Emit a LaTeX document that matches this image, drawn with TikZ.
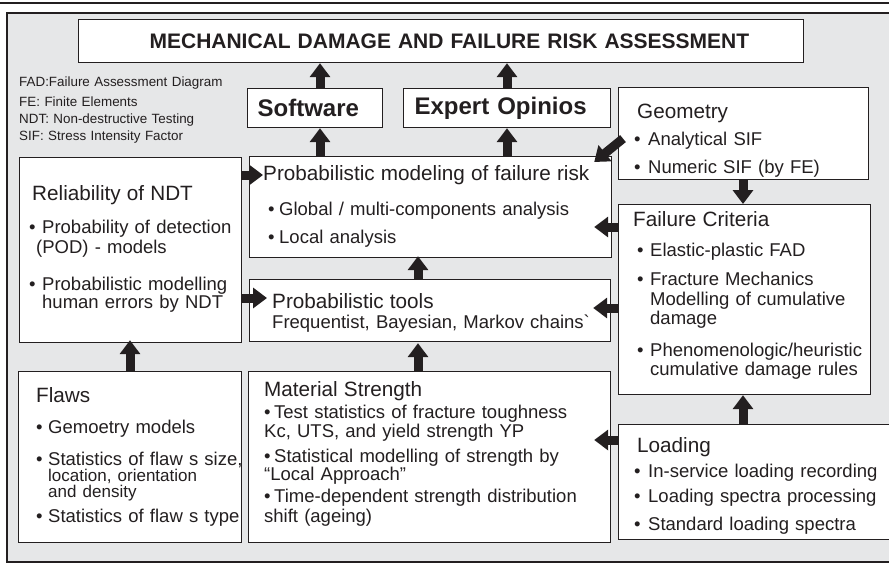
\documentclass[tikz,border=0pt]{standalone}
\usepackage{fontspec}
\setmainfont{Liberation Sans}
\usetikzlibrary{arrows.meta,calc,positioning}

\definecolor{inkc}{HTML}{231F20}
\definecolor{panelc}{RGB}{230,231,232}

\newcommand{\headfont}{\fontsize{20.7}{23}\selectfont}
\newcommand{\itemfont}{\fontsize{18.5}{20}\selectfont}
\newcommand{\tightfont}{\fontsize{17}{20}\selectfont}
\newcommand{\abbrfont}{\fontsize{13.4}{16.7}\selectfont}
\newcommand{\bul}[1][13pt]{\makebox[#1][l]{\textbullet}}

\begin{document}
\begin{tikzpicture}[
    x=1pt, y=-1pt,
    box/.style={draw=inkc,line width=1.2pt,fill=white,anchor=north west,inner sep=0pt},
    txt/.style={anchor=base west,inner sep=0pt,align=left,text=inkc,font=\itemfont,text width=#1},
    txt/.default=240pt,
    flow/.style={draw=inkc,line width=9pt,-{Triangle[length=14pt,width=20pt]}}
]
\useasboundingbox (0,0) rectangle (889,566);

% rule and grey panel
\draw[inkc,line width=1.3pt] (0,3) -- (889,3);
\draw[inkc,line width=1.3pt,fill=panelc] (7,13) rectangle (900,562);

% ===== Boxes =====
\node[box,minimum width=725pt,minimum height=43pt,text width=725pt,align=left,
      text=inkc,font=\bfseries\fontsize{21}{24}\selectfont] (goal) at (78,19)
    {\hspace*{71pt}MECHANICAL DAMAGE AND FAILURE RISK ASSESSMENT};

\node[box,minimum width=135pt,minimum height=39pt,text width=135pt,align=left,
      text=inkc,font=\bfseries\fontsize{24}{28}\selectfont] (sw) at (247,88)
    {\hspace*{10pt}Software};
\node[box,minimum width=207pt,minimum height=39pt,text width=207pt,align=left,
      text=inkc,font=\bfseries\fontsize{24}{28}\selectfont] (expert) at (403,88)
    {\hspace*{11pt}Expert Opinios};

\node[box,minimum width=250pt,minimum height=92pt] (geo) at (618,87) {};
\node[box,minimum width=362pt,minimum height=101pt] (model) at (249,156) {};
\node[box,minimum width=222pt,minimum height=185pt] (ndt) at (19,157) {};
\node[box,minimum width=361pt,minimum height=62pt] (tools) at (249,279) {};
\node[box,minimum width=252pt,minimum height=190pt] (fail) at (618,204) {};
\node[box,minimum width=223pt,minimum height=171pt] (flaws) at (18,371) {};
\node[box,minimum width=362pt,minimum height=171pt] (mat) at (248,371) {};
\node[box,minimum width=280pt,minimum height=115pt] (load) at (618,424) {};

% ===== Texts =====
\node[txt,font=\abbrfont,text width=230pt] (abbr) at (19,86)
    {FAD:Failure Assessment Diagram\\[4pt]
     FE: Finite Elements\\
     NDT: Non-destructive Testing\\[0.7pt]
     SIF: Stress Intensity Factor};

\node[txt] (ndt-t) at ($(ndt.north west)+(10,43)$)
    {\hspace*{3pt}{\headfont Reliability of NDT}\\[13pt]
     \bul Probability of detection\\
     \hspace*{7pt}(POD) - models\\[17pt]
     \bul Probabilistic modelling\\[-2pt]
     \hspace*{13pt}human errors by NDT};

\node[txt=345pt] (model-t) at ($(model.north west)+(14,24)$)
    {{\headfont Probabilistic modeling of failure risk}\\[15pt]
     \hspace*{5pt}\bul[11pt]Global / multi-components analysis\\[8pt]
     \hspace*{5pt}\bul[11pt]Local analysis};

\node[txt=335pt] (tools-t) at ($(tools.north west)+(23,29)$)
    {{\headfont Probabilistic tools}\\
     Frequentist, Bayesian, Markov chains\textasciigrave};

\node[txt=230pt] (geo-t) at ($(geo.north west)+(16,31)$)
    {\hspace*{3pt}{\headfont Geometry}\\[7pt]
     \bul[14pt]Analytical SIF\\[8pt]
     \bul[14pt]Numeric SIF (by FE)};

\node[txt=235pt] (fail-t) at ($(fail.north west)+(15,22)$)
    {{\headfont Failure Criteria}\\[10pt]
     \hspace*{4pt}\bul Elastic-plastic FAD\\[9pt]
     \hspace*{4pt}\bul Fracture Mechanics\\
     \hspace*{17pt}Modelling of cumulative\\[-1pt]
     \hspace*{17pt}damage\\[12pt]
     \hspace*{4pt}\bul Phenomenologic/heuristic\\[-1pt]
     \hspace*{17pt}cumulative damage rules};

\node[txt=220pt] (flaws-t) at ($(flaws.north west)+(18,31)$)
    {{\headfont Flaws}\\[11pt]
     \bul[12pt]Gemoetry models\\[12pt]
     \bul[12pt]Statistics of flaw s size,\\[-4pt]
     \hspace*{12pt}{\tightfont location, orientation}\\[-4pt]
     \hspace*{12pt}{\tightfont and density}\\[5pt]
     \bul[12pt]Statistics of flaw s type};

\node[txt=340pt] (mat-t) at ($(mat.north west)+(16,25)$)
    {{\headfont Material Strength}\\[2pt]
     \bul[10pt]Test statistics of fracture toughness\\[-1pt]
     Kc, UTS, and yield strength YP\\[5pt]
     \bul[10pt]Statistical modelling of strength by\\[-2pt]
     ``Local Approach''\\[2pt]
     \bul[10pt]Time-dependent strength distribution\\
     shift (ageing)};

\node[txt=250pt] (load-t) at ($(load.north west)+(16,28)$)
    {\hspace*{3pt}{\headfont Loading}\\[5pt]
     \bul[14pt]In-service loading recording\\[5pt]
     \bul[14pt]Loading spectra processing\\[8pt]
     \bul[14pt]Standard loading spectra};

% ===== Arrows =====
\draw[flow] ($(sw.north west)+(73,0)$) -- ($(goal.south west)+(242,0)$);
\draw[flow] ($(expert.north west)+(104,0)$) -- ($(goal.south west)+(429,0)$);
\draw[flow] ($(model.north west)+(71,0)$) -- ($(sw.south west)+(73,0)$);
\draw[flow] ($(model.north west)+(258,0)$) -- ($(expert.south west)+(104,0)$);
\draw[flow] ($(geo.west)+(5,5)$) -- ($(model.north east)+(-18,6)$);
\draw[flow] ($(geo.south west)+(125,0)$) -- ($(fail.north west)+(125,0)$);
\draw[flow] ($(fail.north west)+(0,23)$) -- ($(model.north east)+(-18,71)$);
\draw[flow] ($(fail.north west)+(0,104)$) -- ($(tools.north east)+(-18,29)$);
\draw[flow] ($(load.north west)+(125,0)$) -- ($(fail.south west)+(125,0)$);
\draw[flow] ($(load.north west)+(0,16)$) -- ($(mat.north east)+(-17,69)$);
\draw[flow] ($(ndt.north east)+(0,18)$) -- ($(model.north west)+(14,19)$);
\draw[flow] ($(ndt.north east)+(0,141)$) -- ($(tools.north west)+(18,19)$);
\draw[flow] ($(tools.north west)+(169,0)$) -- ($(model.south west)+(169,-2)$);
\draw[flow] ($(mat.north west)+(170,0)$) -- ($(tools.south west)+(169,1)$);
\draw[flow] ($(flaws.north west)+(112,0)$) -- ($(ndt.south west)+(111,-3)$);

\end{tikzpicture}
\end{document}
